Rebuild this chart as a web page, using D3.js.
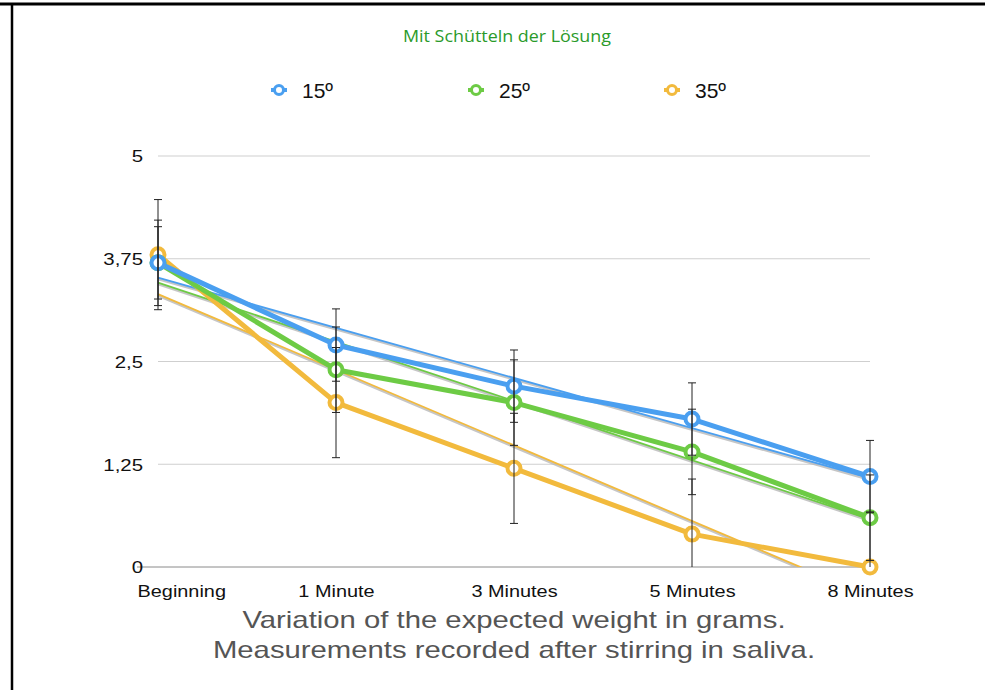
<!DOCTYPE html>
<html><head><meta charset="utf-8">
<script src="https://cdn.jsdelivr.net/npm/d3@7"></script>
<style>body{margin:0;background:#fff}svg{display:block}</style>
</head><body>
<svg id="c" width="986" height="690"></svg>
<script>
const categories = ["Beginning", "1 Minute", "3 Minutes", "5 Minutes", "8 Minutes"];
const seriesNames = ["15º", "25º", "35º"];
const values15 = [3.7, 2.7, 2.2, 1.8, 1.1];
const values25 = [3.7, 2.4, 2.0, 1.4, 0.6];
const values35 = [3.8, 2.0, 1.2, 0.4, 0.0];
const errorBars = [0.44, 0.52, 0.67];
const colors = ["#4a9ff0", "#6dcb45", "#f2ba3d"];
const yTicks = [0, 1.25, 2.5, 3.75, 5];
const yTickLabels = ["0", "1,25", "2,5", "3,75", "5"];
const title = "Mit Schütteln der Lösung";
const subtitle = ["Variation of the expected weight in grams.", "Measurements recorded after stirring in saliva."];

const series = [values15, values25, values35].map((v, i) => ({name: seriesNames[i], values: v, err: errorBars[i], color: colors[i]}));

const svg = d3.select("#c");
const W = 986, H = 690;
const x = d3.scalePoint().domain(categories).range([158, 870]).padding(0);
const y = d3.scaleLinear().domain([0, 5]).range([567, 156]);
const FONT = "'Liberation Sans', Arial, Helvetica, sans-serif";
function stretch(sel, k) {
  sel.each(function() {
    const len = this.getComputedTextLength();
    d3.select(this).attr("textLength", len * k).attr("lengthAdjust", "spacingAndGlyphs");
  });
}

// frame
svg.append("line").attr("x1", 0).attr("x2", 985).attr("y1", 4).attr("y2", 4).attr("stroke", "#000").attr("stroke-width", 3);
svg.append("line").attr("x1", 12).attr("x2", 12).attr("y1", 3).attr("y2", H).attr("stroke", "#000").attr("stroke-width", 2.5);

// title
svg.append("text").attr("x", 507).attr("y", 42).attr("text-anchor", "middle")
  .attr("font-family", "'Open Sans', sans-serif").attr("font-size", 16).attr("fill", "#2a9a2a")
  .attr("textLength", 208).attr("lengthAdjust", "spacingAndGlyphs").text(title);

// legend
const legendX = [279, 476, 672];
const lg = svg.append("g");
series.forEach((s, i) => {
  const g = lg.append("g").attr("transform", `translate(${legendX[i]},90)`);
  g.append("line").attr("x1", -8).attr("x2", 8).attr("stroke", s.color).attr("stroke-width", 4);
  g.append("circle").attr("r", 4.5).attr("fill", "#fff").attr("stroke", s.color).attr("stroke-width", 3);
  g.append("text").attr("x", 23).attr("y", 8).attr("font-family", FONT).attr("font-size", 21).attr("fill", "#111").text(s.name);
});

// grid
const grid = svg.append("g");
grid.selectAll("line").data(yTicks.filter(d => d > 0)).join("line")
  .attr("x1", x(categories[0])).attr("x2", x(categories[categories.length - 1]))
  .attr("y1", d => y(d)).attr("y2", d => y(d)).attr("stroke", "#cfcfcf").attr("stroke-width", 1);
grid.append("line").attr("x1", 137).attr("x2", 870).attr("y1", y(0)).attr("y2", y(0)).attr("stroke", "#8a8a8a").attr("stroke-width", 1);

// y axis labels
const yAxis = d3.axisLeft(y).tickValues(yTicks).tickFormat((d, i) => yTickLabels[i]).tickSize(0).tickPadding(0);
const ya = svg.append("g").attr("transform", "translate(143,0)").call(yAxis);
ya.select(".domain").remove();
ya.selectAll("text").attr("font-family", FONT).attr("font-size", 17).attr("fill", "#111").attr("dy", "0.35em");
stretch(ya.selectAll("text"), 1.2);

// x axis labels
const xAxis = d3.axisBottom(x).tickSize(0).tickPadding(0);
const xa = svg.append("g").attr("transform", `translate(0,${y(0)})`).call(xAxis);
xa.select(".domain").remove();
xa.selectAll("text").attr("font-family", FONT).attr("font-size", 17).attr("fill", "#111").attr("dy", null).attr("y", 30);
stretch(xa.selectAll("text"), 1.17);
xa.selectAll("text").each(function(d, i) { if (i === 0) d3.select(this).attr("text-anchor", "start").attr("x", 137 - x(d)); });

// clip
const defs = svg.append("defs");
defs.append("clipPath").attr("id", "plot").append("rect").attr("x", 100).attr("y", 100).attr("width", 800).attr("height", y(0) - 100);

// trend lines (linear regression of each series)
const idx = d3.range(categories.length);
const trend = svg.append("g").attr("clip-path", "url(#plot)");
series.forEach(s => {
  const mx = d3.mean(idx), my = d3.mean(s.values);
  const slope = d3.sum(idx, i => (i - mx) * (s.values[i] - my)) / d3.sum(idx, i => (i - mx) ** 2);
  const b = my - slope * mx;
  const i0 = 0, i1 = categories.length - 1;
  const px = i => x(categories[0]) + (x(categories[1]) - x(categories[0])) * i;
  trend.append("line").attr("x1", px(i0)).attr("x2", px(i1)).attr("y1", y(b + slope * i0) + 1.5).attr("y2", y(b + slope * i1) + 1.5)
    .attr("stroke", "#b8b8b8").attr("stroke-width", 2.5).attr("opacity", 0.8);
  trend.append("line").attr("x1", px(i0)).attr("x2", px(i1)).attr("y1", y(b + slope * i0)).attr("y2", y(b + slope * i1))
    .attr("stroke", s.color).attr("stroke-width", 1.8);
});

// data lines
const line = d3.line().x((d, i) => x(categories[i])).y(d => y(d));
series.slice().reverse().forEach(s => {
  svg.append("path").attr("d", line(s.values)).attr("fill", "none").attr("stroke", s.color).attr("stroke-width", 5)
    .attr("stroke-linejoin", "round").attr("stroke-linecap", "round");
});
series.slice().reverse().forEach(s => {
  svg.append("g").selectAll("circle").data(s.values).join("circle")
    .attr("cx", (d, i) => x(categories[i])).attr("cy", d => y(d)).attr("r", 6.5)
    .attr("fill", "#fff").attr("stroke", s.color).attr("stroke-width", 4);
});

// error bars
const eb = svg.append("g").attr("clip-path", "url(#plot)").attr("stroke", "#222").attr("stroke-width", 1);
series.forEach(s => {
  s.values.forEach((v, i) => {
    const cx = x(categories[i]);
    eb.append("line").attr("x1", cx).attr("x2", cx).attr("y1", y(v + s.err)).attr("y2", y(v - s.err));
    [v + s.err, v - s.err].forEach(e => {
      eb.append("line").attr("x1", cx - 4).attr("x2", cx + 4).attr("y1", y(e)).attr("y2", y(e));
    });
  });
});

// subtitle
const sub = svg.append("g").selectAll("text").data(subtitle).join("text")
  .attr("x", 514).attr("y", (d, i) => 628 + i * 30).attr("text-anchor", "middle")
  .attr("font-family", FONT).attr("font-size", 24).attr("fill", "#555").text(d => d);
stretch(sub, 1.22);
</script>
</body></html>
